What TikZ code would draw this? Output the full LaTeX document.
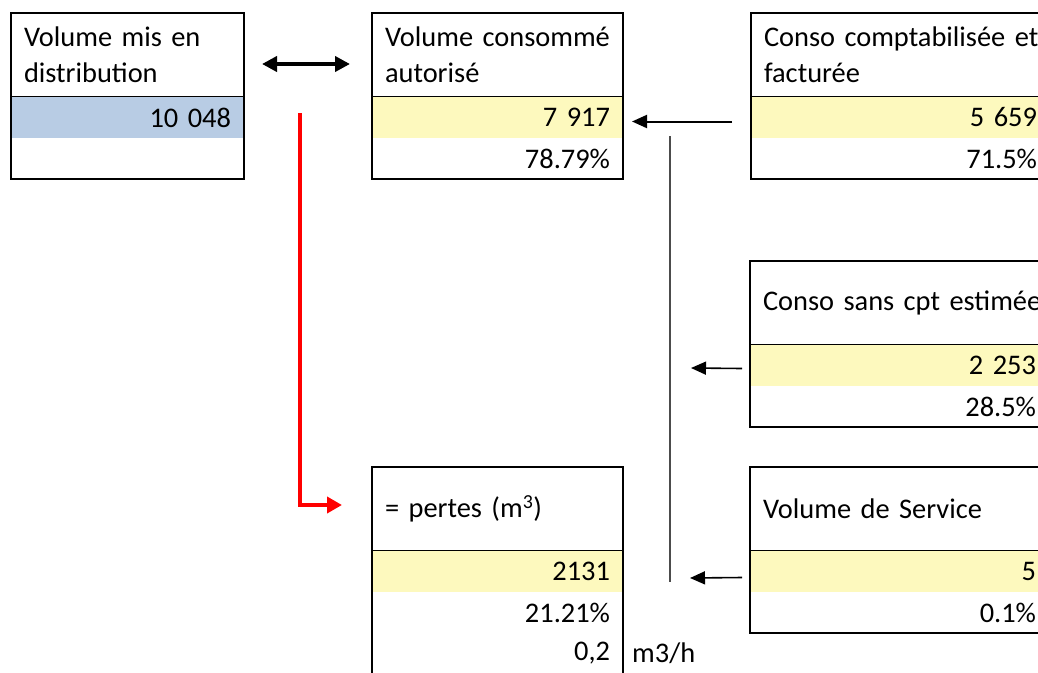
\documentclass[tikz,border=0pt]{standalone}
\usepackage{fontspec}
\setmainfont{Carlito}
\usepackage{xcolor}
\usetikzlibrary{arrows.meta, positioning}

\definecolor{cellblue}{RGB}{184,204,228}
\definecolor{cellyellow}{RGB}{253,249,190}

\begin{document}
\begin{tikzpicture}[
    x=1pt, y=-1pt,
    node distance=0pt,
    font=\fontsize{28.4}{36}\selectfont,
    hdr/.style={rectangle, draw, line width=2pt, inner xsep=13pt, inner ysep=0pt, outer sep=0pt, minimum height=84pt, align=left, anchor=north west},
    row/.style={rectangle, inner xsep=13pt, inner ysep=0pt, outer sep=0pt, minimum height=41pt, align=right},
    frame/.style={draw, line width=2pt},
    arrow/.style={-{Triangle[length=15pt,width=13pt]}, line width=1.6pt},
    biarrow/.style={{Triangle[length=15pt,width=15pt]}-{Triangle[length=15pt,width=15pt]}, line width=4pt},
    redarrow/.style={-{Triangle[length=15pt,width=16pt]}, line width=4.5pt, red}
]
    \useasboundingbox (0,0) rectangle (1038,672);
    \clip (0,0) rectangle (1038,672);

    % Nodes
    \node[hdr, text width=207pt] (dist) at (11,13) {\mbox{Volume mis en}\\distribution};
    \node[row, text width=207pt, fill=cellblue, below=of dist] (distval) {10 048};
    \node[row, text width=207pt, below=of distval] (distpct) {};

    \node[hdr, text width=225pt] (conso) at (372,13) {\mbox{Volume consommé}\\autorisé};
    \node[row, text width=225pt, fill=cellyellow, below=of conso] (consoval) {7 917};
    \node[row, text width=225pt, below=of consoval] (consopct) {78.79\%};

    \node[hdr, text width=273pt] (fact) at (751,13) {\mbox{Conso comptabilisée et}\\facturée};
    \node[row, text width=273pt, fill=cellyellow, below=of fact] (factval) {5 659};
    \node[row, text width=273pt, below=of factval] (factpct) {71.5\%};

    \node[hdr, text width=273pt] (estim) at (750,261) {\mbox{Conso sans cpt estimée}};
    \node[row, text width=273pt, fill=cellyellow, below=of estim] (estimval) {2 253};
    \node[row, text width=273pt, below=of estimval] (estimpct) {28.5\%};

    \node[hdr, text width=225pt] (pertes) at (372,467) {\mbox{= pertes (m\textsuperscript{3})}};
    \node[row, text width=225pt, fill=cellyellow, below=of pertes] (pertesval) {2131};
    \node[row, text width=225pt, below=of pertesval] (pertespct) {21.21\%};
    \node[row, text width=225pt, below=of pertespct] (pertesh) {0,2};
    \node[right=9pt of pertesh, inner sep=0pt] (unit) {m3/h};

    \node[hdr, text width=273pt] (serv) at (750,467) {\mbox{Volume de Service}};
    \node[row, text width=273pt, fill=cellyellow, below=of serv] (servval) {5};
    \node[row, text width=273pt, below=of servval] (servpct) {0.1\%};

    % Frames
    \foreach \top/\bot in {dist/distpct, conso/consopct, fact/factpct, estim/estimpct, pertes/pertesh, serv/servpct}
        \draw[frame] (\top.north west) rectangle (\bot.south east);

    % Arrows
    \coordinate (trunktop) at (670,136);
    \coordinate (trunkbot) at (670,582);
    \coordinate (estimtip) at (691,368);
    \coordinate (servtip) at (690,578);
    \coordinate (redstart) at (300,113);
    \coordinate (redcorner) at (300,505);

    \draw[biarrow] ([xshift=18pt,yshift=-9pt]dist.east) -- ([xshift=-22pt,yshift=-9pt]conso.west);
    \draw[arrow, line width=2pt] ([xshift=-19pt,yshift=-4pt]factval.west) -- ([xshift=9pt,yshift=-4pt]consoval.east);
    \draw[line width=1.3pt, black!70] (trunktop) -- (trunkbot);
    \draw[arrow] ([xshift=-8pt,yshift=-3pt]estimval.west) -- (estimtip);
    \draw[arrow] ([xshift=-8pt,yshift=-6pt]servval.west) -- (servtip);
    \draw[redarrow] (redstart) -- (redcorner) -- ([xshift=-30pt]redcorner -| pertes.west);
\end{tikzpicture}
\end{document}
